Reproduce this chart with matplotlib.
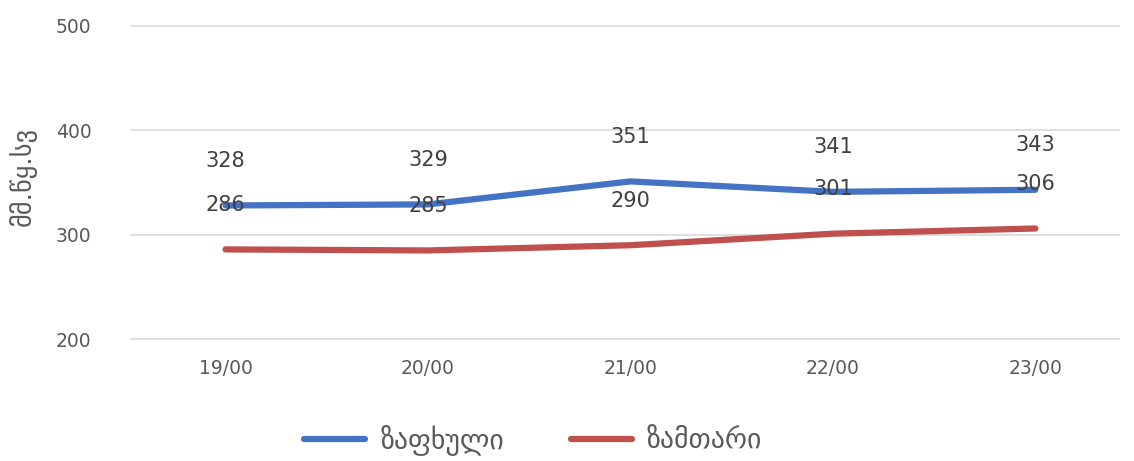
import numpy as np
import matplotlib.pyplot as plt

hours = ["19/00", "20/00", "21/00", "22/00", "23/00"]
summer = [328, 329, 351, 341, 343]
winter = [286, 285, 290, 301, 306]
yticks = [200, 300, 400, 500]

plt.rcParams['font.family'] = ['DejaVu Sans']
txt = '#595959'

fig = plt.figure(figsize=(11.34, 4.61), dpi=100)
ax = fig.add_axes([0.115, 0.2625, 0.873, 0.6835])

x = np.arange(len(hours))
ax.plot(x, summer, color='#4472C4', lw=4.5, solid_capstyle='round', label='ზაფხული')
ax.plot(x, winter, color='#C0504D', lw=4.5, solid_capstyle='round', label='ზამთარი')

for xi, v in zip(x, summer):
    ax.annotate(str(v), (xi, v), xytext=(0, 32), textcoords='offset points',
                ha='center', va='center', fontsize=15, color='#404040')
for xi, v in zip(x, winter):
    ax.annotate(str(v), (xi, v), xytext=(0, 32), textcoords='offset points',
                ha='center', va='center', fontsize=15, color='#404040')

ax.set_xlim(-0.47, 4.42)
ax.set_ylim(199.4, 500.6)
ax.set_yticks(yticks)
ax.set_xticks(x)
ax.set_xticklabels(hours)
ax.tick_params(axis='both', length=0, labelsize=13.5, colors=txt)
ax.tick_params(axis='y', pad=28)
ax.tick_params(axis='x', pad=14)
ax.grid(axis='y', color='#D9D9D9', lw=1.2)
ax.set_axisbelow(True)
for s in ax.spines.values():
    s.set_visible(False)

ax.set_ylabel('მმ.წყ.სვ', fontsize=19, color=txt)
ax.yaxis.set_label_coords(-0.095, 0.52)

fig.legend(loc='center', ncol=2, frameon=False, fontsize=20,
           bbox_to_anchor=(0.47, 0.045), handlelength=2.2, handletextpad=0.55,
           columnspacing=2.4, labelcolor=txt)

plt.savefig('out.png', dpi=100)
